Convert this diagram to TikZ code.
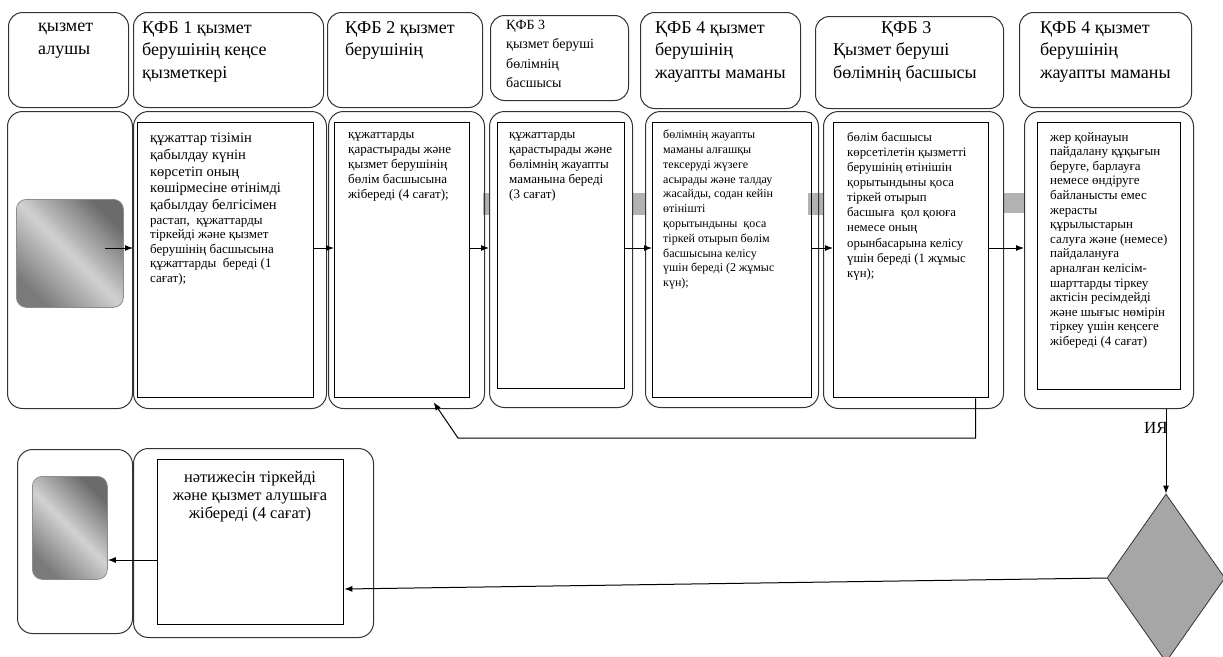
\documentclass[tikz,border=0pt]{standalone}
\usepackage{fontspec}
\setmainfont{Liberation Serif}
\usetikzlibrary{arrows.meta,shapes.geometric}
\begin{document}
\begin{tikzpicture}[x=1pt,y=-1pt,
  hdrbox/.style={draw=black!80, line width=1pt, rounded corners=14pt, anchor=north west, inner sep=0pt},
  outerbox/.style={draw=black!80, line width=1pt, rounded corners=15pt, anchor=north west, inner sep=0pt},
  innerbox/.style={draw=black, line width=1.3pt, anchor=north west, inner sep=0pt},
  htext/.style={anchor=north west, align=left, inner sep=0pt, font=\fontsize{18}{22.5}\selectfont},
  hsmall/.style={anchor=north west, align=left, inner sep=0pt, font=\fontsize{14}{19.5}\selectfont},
  ctext/.style={anchor=north west, align=left, inner sep=0pt, font=\fontsize{13}{15}\selectfont},
  btext/.style={anchor=north, align=center, inner sep=0pt, font=\fontsize{16.4}{18}\selectfont},
  graybar/.style={fill=black!30, draw=none},
  icon/.style={anchor=north west, inner sep=0pt, rounded corners=10pt, draw=black!45, line width=0.8pt,
    top color=black!58, bottom color=black!52, middle color=black!18, shading angle=-45},
  arr/.style={-{Latex[length=8pt,width=6pt]}, line width=1pt}
]
\useasboundingbox (0,0) rectangle (1223,656);

% gray bars behind
\fill[graybar] (483,193) rectangle (490,215);
\fill[graybar] (632,193) rectangle (645,215);
\fill[graybar] (808,193) rectangle (823,215);
\fill[graybar] (1003,193) rectangle (1024,213);

% header row
\node[hdrbox, minimum width=120pt, minimum height=95pt] (h0) at (8,12) {};
\node[hdrbox, minimum width=190pt, minimum height=95pt] (h1) at (133,12) {};
\node[hdrbox, minimum width=155pt, minimum height=95pt] (h2) at (327,12) {};
\node[hdrbox, minimum width=138pt, minimum height=85pt] (h3) at (490,15) {};
\node[hdrbox, minimum width=160pt, minimum height=96pt] (h4) at (640,12) {};
\node[hdrbox, minimum width=188pt, minimum height=92pt] (h5) at (815,16) {};
\node[hdrbox, minimum width=172pt, minimum height=95pt] (h6) at (1019,12) {};

\node[htext] (ht0) at (38,23) {қызмет\\алушы};
\node[htext] (ht1) at (142,21) {ҚФБ 1 қызмет\\берушінің кеңсе\\қызметкері};
\node[htext] (ht2) at (345,21) {ҚФБ 2 қызмет\\берушінің};
\node[hsmall] (ht3) at (506,20) {ҚФБ 3\\қызмет беруші\\бөлімнің\\басшысы};
\node[htext] (ht4) at (655,21) {ҚФБ 4 қызмет\\берушінің\\жауапты маманы};
\node[htext] (ht5) at (833,21) {\hspace*{48pt}ҚФБ 3\\Қызмет беруші\\бөлімнің басшысы};
\node[htext] (ht6) at (1040,21) {ҚФБ 4 қызмет\\берушінің\\жауапты маманы};

% lower row outer boxes
\node[outerbox, minimum width=125pt, minimum height=297pt] (o0) at (7,111) {};
\node[outerbox, minimum width=193pt, minimum height=297pt] (o1) at (133,111) {};
\node[outerbox, minimum width=156pt, minimum height=297pt] (o2) at (328,111) {};
\node[outerbox, minimum width=143pt, minimum height=296pt] (o3) at (489,111) {};
\node[outerbox, minimum width=173pt, minimum height=296pt] (o4) at (645,111) {};
\node[outerbox, minimum width=180pt, minimum height=297pt] (o5) at (823,111) {};
\node[outerbox, minimum width=169pt, minimum height=297pt] (o6) at (1024,111) {};

% inner rectangles
\node[innerbox, minimum width=176pt, minimum height=275pt] (i1) at (137,122) {};
\node[innerbox, minimum width=135pt, minimum height=275pt] (i2) at (334,122) {};
\node[innerbox, minimum width=127pt, minimum height=266pt] (i3) at (497,122) {};
\node[innerbox, minimum width=159pt, minimum height=275pt] (i4) at (652,122) {};
\node[innerbox, minimum width=155pt, minimum height=275pt] (i5) at (833,122) {};
\node[innerbox, minimum width=143pt, minimum height=267pt] (i6) at (1037,122) {};

% start icon
\node[icon, minimum width=107pt, minimum height=108pt] (icon1) at (16,199) {};

% texts
\node[ctext, font=\fontsize{14.5}{16.7}\selectfont] (t1a) at (150,133) {құжаттар тізімін\\қабылдау күнін\\көрсетіп оның\\көшірмесіне өтінімді\\қабылдау белгісімен};
\node[ctext, font=\fontsize{13}{14.5}\selectfont] (t1b) at (150,218) {растап,\ \ құжаттарды\\тіркейді және қызмет\\берушінің басшысына\\құжаттарды\ \ береді (1\\сағат);};
\node[ctext] (t2) at (348,132) {құжаттарды\\қарастырады және\\қызмет берушінің\\бөлім басшысына\\жібереді (4 сағат);};
\node[ctext] (t3) at (509,132) {құжаттарды\\қарастырады және\\бөлімнің жауапты\\маманына береді\\(3 сағат)};
\node[ctext, font=\fontsize{12}{14.8}\selectfont] (t4) at (663,130) {бөлімнің жауапты\\маманы алғашқы\\тексеруді жүзеге\\асырады және талдау\\жасайды, содан кейін\\өтінішті\\қорытындыны\ \ қоса\\тіркей отырып бөлім\\басшысына келісу\\үшін береді (2 жұмыс\\күн);};
\node[ctext, font=\fontsize{12.8}{15.1}\selectfont] (t5) at (847,132) {бөлім басшысы\\көрсетілетін қызметті\\берушінің өтінішін\\қорытындыны қоса\\тіркей отырып\\басшыға\ \ қол қоюға\\немесе оның\\орынбасарына келісу\\үшін береді (1 жұмыс\\күн);};
\node[ctext, font=\fontsize{13}{14.6}\selectfont] (t6) at (1050,132) {жер қойнауын\\пайдалану құқығын\\беруге, барлауға\\немесе өндіруге\\байланысты емес\\жерасты\\құрылыстарын\\салуға және (немесе)\\пайдалануға\\арналған келісім-\\шарттарды тіркеу\\актісін ресімдейді\\және шығыс нөмірін\\тіркеу үшін кеңсеге\\жібереді (4 сағат)};

% row coordinates for connectors
\coordinate (row) at (0,248);
\coordinate (row2) at (0,560);
\coordinate (row3) at (0,589);

\draw[arr] ([xshift=-19pt]icon1.east |- row) -- (o1.west |- row);
\draw[arr] (i1.east |- row) -- (i2.west |- row);
\draw[arr] (i2.east |- row) -- (o3.west |- row);
\draw[arr] (i3.east |- row) -- (i4.west |- row);
\draw[arr] (i4.east |- row) -- (i5.west |- row);
\draw[arr] (i5.east |- row) -- (o6.west |- row);

% feedback
\coordinate (fbL) at (458,438);
\draw[arr] ([xshift=64.5pt]i5.south) |- (fbL) -- ([xshift=31.5pt,yshift=-4pt]i2.south);

% decision
\node[diamond, draw=black!80, fill=black!35, line width=0.8pt, minimum width=118pt, minimum height=168pt, inner sep=0pt] (dia) at (1166,578) {};
\draw[arr] (dia.north |- o6.south) -- (dia.north);
\node[anchor=east, inner sep=0pt, font=\fontsize{17}{18}\selectfont] (ya) at (1168,428) {ИЯ};

% bottom row
\node[outerbox, minimum width=115pt, minimum height=184pt] (ob0) at (17,449) {};
\node[outerbox, minimum width=240pt, minimum height=189pt] (ob1) at (133,448) {};
\node[innerbox, minimum width=186pt, minimum height=165pt] (ib1) at (157,459) {};
\node[icon, minimum width=75pt, minimum height=103pt] (icon2) at (32,476) {};
\node[btext] (bt) at (250,471) {нәтижесін тіркейді\\және қызмет алушыға\\жібереді (4 сағат)};

\draw[arr] (ib1.west |- row2) -- (icon2.east |- row2);
\draw[arr] (dia.west) -- (ib1.east |- row3);
\end{tikzpicture}
\end{document}
